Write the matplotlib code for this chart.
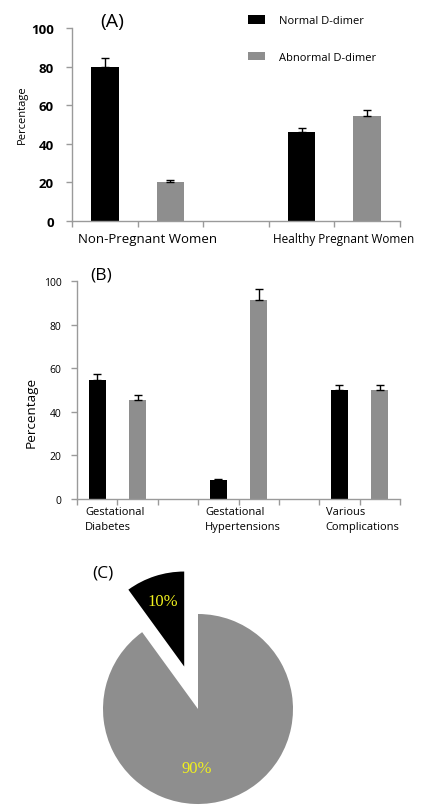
import matplotlib.pyplot as plt
import numpy as np

# panel A
groupsA = ['Non-Pregnant Women', 'Healthy Pregnant Women']
normalA = [80, 46]
normalA_err = [4.5, 2.2]
abnormalA = [20, 54.5]
abnormalA_err = [1.0, 2.8]

# panel B
groupsB = ['Gestational\nDiabetes', 'Gestational\nHypertensions', 'Various\nComplications']
normalB = [54.5, 8.5, 50]
normalB_err = [2.8, 0.6, 2.5]
abnormalB = [45.5, 91.5, 50]
abnormalB_err = [2.3, 4.8, 2.5]

# panel C
pie_vals = [90, 10]

GRAY = '#8e8e8e'
SPINE = '#9a9a9a'
plt.rcParams['font.family'] = ['Open Sans', 'DejaVu Sans']

W, H = 422, 812
fig = plt.figure(figsize=(W / 100, H / 100), dpi=100)


def px_axes(x0, y0, x1, y1):
    # pixel box (top-left origin) -> figure axes
    return fig.add_axes([x0 / W, 1 - y1 / H, (x1 - x0) / W, (y1 - y0) / H])


def style(ax, n):
    for s in ['top', 'right']:
        ax.spines[s].set_visible(False)
    for s in ['left', 'bottom']:
        ax.spines[s].set_color(SPINE)
        ax.spines[s].set_linewidth(1)
    ax.set_xlim(0, n)
    ax.set_ylim(0, 100)
    ax.set_xticks(np.arange(n + 1))
    ax.set_xticklabels([])
    ax.tick_params(axis='both', color=SPINE, length=4, width=1)
    ax.set_yticks(np.arange(0, 101, 20))


def up_err(ax, x, vals, errs):
    ax.errorbar(x, vals, yerr=[np.zeros(len(errs)), errs], fmt='none',
                ecolor='black', elinewidth=1, capsize=3, capthick=1)


# ---- (A)
axA = px_axes(72, 29, 400, 222)
style(axA, 5)
xa = np.array([0.5, 3.5])
bA1 = axA.bar(xa, normalA, width=0.42, color='black')
bA2 = axA.bar(xa + 1, abnormalA, width=0.42, color=GRAY)
up_err(axA, xa, normalA, normalA_err)
up_err(axA, xa + 1, abnormalA, abnormalA_err)
axA.tick_params(axis='y', pad=9, labelsize=9.5)
for t in axA.get_yticklabels():
    t.set_fontweight('bold')
axA.set_ylabel('Percentage', fontsize=8)
axA.yaxis.set_label_coords(-0.134, 0.554)
axA.text(0.09, -0.093, groupsA[0], transform=axA.get_xaxis_transform(), ha='left',
         va='center', fontsize=9.5, clip_on=False)
axA.text(3.06, -0.093, groupsA[1], transform=axA.get_xaxis_transform(), ha='left',
         va='center', fontsize=8.5, clip_on=False)
fig.text(100 / W, 1 - 22 / H, '(A)', fontsize=14, va='center')
fig.legend([bA1, bA2], ['Normal D-dimer', 'Abnormal D-dimer'], loc='upper left',
           bbox_to_anchor=(248 / W, 1 - 16 / H), frameon=False, fontsize=8,
           handlelength=1.5, handleheight=0.8, handletextpad=1.3,
           labelspacing=2.3, borderpad=0, borderaxespad=0)

# ---- (B)
axB = px_axes(77, 282, 400, 500)
style(axB, 8)
xb = np.array([0.5, 3.5, 6.5])
axB.bar(xb, normalB, width=0.43, color='black')
axB.bar(xb + 1, abnormalB, width=0.43, color=GRAY)
up_err(axB, xb, normalB, normalB_err)
up_err(axB, xb + 1, abnormalB, abnormalB_err)
axB.tick_params(axis='y', pad=7, labelsize=7.5)
axB.set_ylabel('Percentage', fontsize=9.7)
axB.yaxis.set_label_coords(-0.121, 0.40)
for x0, g in zip([0.2, 3.17, 6.16], groupsB):
    axB.text(x0, -0.092, g, transform=axB.get_xaxis_transform(), ha='left',
             va='center', fontsize=8, linespacing=1.45, clip_on=False)
fig.text(90 / W, 1 - 276 / H, '(B)', fontsize=12.5, va='center')

# ---- (C)
R = 95
axC = px_axes(48, 560, 348, 812)
wedges, texts, autotexts = axC.pie(pie_vals, colors=[GRAY, 'black'], startangle=90,
                                   counterclock=False, explode=[0, 0.47],
                                   autopct='%d%%', pctdistance=0.72,
                                   textprops=dict(color='#f0f01e', fontsize=12,
                                                  family='Liberation Serif'))
autotexts[0].set_position((-0.01, -0.62))
axC.set_xlim(-150 / R, 150 / R)
axC.set_ylim(-102 / R, 150 / R)
axC.set_aspect('equal')
axC.axis('off')
fig.text(92 / W, 1 - 573 / H, '(C)', fontsize=12.5, va='center')

fig.savefig('out.png', dpi=100)
